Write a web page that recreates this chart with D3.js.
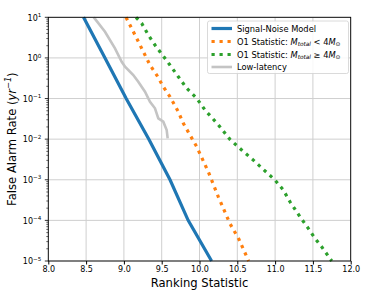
<!DOCTYPE html>
<html>
<head>
<meta charset="utf-8">
<script src="https://cdn.jsdelivr.net/npm/d3@7"></script>
<style>
  body { margin: 0; background: #fff; }
  text { font-family: "DejaVu Sans", sans-serif; }
</style>
</head>
<body>
<script>
// series: [ranking statistic, log10(FAR)]
var signalNoise = [[8.466, 1], [8.75, 0], [9.03, -1], [9.33, -2], [9.61, -3], [9.85, -4], [10.16, -5]];
var o1Low = [[9.028, 1], [9.08, 0.81], [9.169, 0.483], [9.257, 0.153], [9.345, -0.175], [9.434, -0.421],
             [9.521, -0.709], [9.61, -0.956], [9.72, -1.325], [9.786, -1.61], [9.963, -2.187],
             [10.116, -2.803], [10.249, -3.419], [10.403, -4.08], [10.52, -4.46], [10.65, -5]];
var o1High = [[9.16, 1], [9.235, 0.852], [9.323, 0.564], [9.411, 0.318], [9.477, 0.153], [9.543, -0.01],
              [9.609, -0.175], [9.72, -0.463], [9.831, -0.749], [9.963, -0.995], [10.073, -1.283],
              [10.25, -1.65], [10.403, -2.005], [10.558, -2.268], [10.712, -2.515], [10.844, -2.744],
              [10.999, -3.007], [11.109, -3.254], [11.197, -3.542], [11.329, -3.911], [11.439, -4.197],
              [11.528, -4.443], [11.616, -4.65], [11.704, -4.88], [11.749, -5]];
var lowLatency = [[8.6, 1], [8.618, 0.96], [8.75, 0.645], [8.882, 0.236], [8.971, -0.094], [9.015, -0.217],
                  [9.124, -0.421], [9.19, -0.586], [9.279, -0.833], [9.345, -1.079], [9.411, -1.241],
                  [9.455, -1.488], [9.521, -1.571], [9.566, -1.776], [9.579, -1.98]];

var xTicks = [8.0, 8.5, 9.0, 9.5, 10.0, 10.5, 11.0, 11.5, 12.0];
var yExponents = [1, 0, -1, -2, -3, -4, -5];

var width = 390, height = 293;
var margin = {left: 48.3, right: 39.3, top: 17.3, bottom: 32};

var svg = d3.select("body").append("svg")
    .attr("width", width)
    .attr("height", height);

var x = d3.scaleLinear().domain([8, 12]).range([margin.left, width - margin.right]);
var y = d3.scaleLog().domain([1e-5, 1e1]).range([height - margin.bottom, margin.top]);

var x0 = x.range()[0], x1 = x.range()[1], y0 = y.range()[0], y1 = y.range()[1];

//grid
svg.append("g").selectAll("line")
    .data(xTicks)
    .enter().append("line")
    .attr("x1", d => x(d)).attr("x2", d => x(d))
    .attr("y1", y0).attr("y2", y1)
    .attr("stroke", "#cfcfcf").attr("stroke-width", 1);
svg.append("g").selectAll("line")
    .data(yExponents)
    .enter().append("line")
    .attr("x1", x0).attr("x2", x1)
    .attr("y1", d => y(Math.pow(10, d))).attr("y2", d => y(Math.pow(10, d)))
    .attr("stroke", "#cfcfcf").attr("stroke-width", 1);

//lines
var line = d3.line()
    .x(d => x(d[0]))
    .y(d => y(Math.pow(10, d[1])));

var plot = svg.append("g");
plot.append("path").datum(lowLatency)
    .attr("d", line).attr("fill", "none")
    .attr("stroke", "#c4c4c4").attr("stroke-width", 2.6);
plot.append("path").datum(o1High)
    .attr("d", line).attr("fill", "none")
    .attr("stroke", "#2ca02c").attr("stroke-width", 3.2)
    .attr("stroke-dasharray", "3.2,4.8");
plot.append("path").datum(o1Low)
    .attr("d", line).attr("fill", "none")
    .attr("stroke", "#ff7f0e").attr("stroke-width", 3.2)
    .attr("stroke-dasharray", "3.2,4.8");
plot.append("path").datum(signalNoise)
    .attr("d", line).attr("fill", "none")
    .attr("stroke", "#1f77b4").attr("stroke-width", 3.2);

//x axis
var xAxis = d3.axisBottom(x)
    .tickValues(xTicks)
    .tickFormat(d3.format(".1f"))
    .tickSize(3.5).tickPadding(2);
var gx = svg.append("g")
    .attr("transform", "translate(0," + y0 + ")")
    .call(xAxis);
gx.select(".domain").remove();
gx.selectAll("text").attr("font-size", "8px").attr("fill", "#000")
    .attr("font-family", "DejaVu Sans");

//y axis ticks (major + minor)
var minor = [];
for (var e = -5; e < 1; e++) {
    for (var m = 2; m <= 9; m++) minor.push(m * Math.pow(10, e));
}
svg.append("g").selectAll("line")
    .data(minor)
    .enter().append("line")
    .attr("x1", x0 - 2).attr("x2", x0)
    .attr("y1", d => y(d)).attr("y2", d => y(d))
    .attr("stroke", "#000").attr("stroke-width", 0.6);
svg.append("g").selectAll("line")
    .data(yExponents)
    .enter().append("line")
    .attr("x1", x0 - 3.5).attr("x2", x0)
    .attr("y1", d => y(Math.pow(10, d))).attr("y2", d => y(Math.pow(10, d)))
    .attr("stroke", "#000").attr("stroke-width", 0.8);

var yLabels = svg.append("g").selectAll("text")
    .data(yExponents)
    .enter().append("text")
    .attr("x", x0 - 7)
    .attr("y", d => y(Math.pow(10, d)) + 3.2)
    .attr("text-anchor", "end")
    .attr("font-size", "8px");
yLabels.append("tspan").text("10");
yLabels.append("tspan")
    .attr("dy", -3.6)
    .attr("font-size", "5.6px")
    .text(d => d < 0 ? "\u2212" + (-d) : d);

//frame
svg.append("rect")
    .attr("x", x0).attr("y", y1)
    .attr("width", x1 - x0).attr("height", y0 - y1)
    .attr("fill", "none").attr("stroke", "#000").attr("stroke-width", 0.9);

//axis labels
svg.append("text")
    .attr("x", (x0 + x1) / 2).attr("y", 286.5)
    .attr("text-anchor", "middle")
    .attr("font-size", "11.6px")
    .text("Ranking Statistic");

var yl = svg.append("text")
    .attr("transform", "translate(15.5," + ((y0 + y1) / 2) + ") rotate(-90)")
    .attr("text-anchor", "middle")
    .attr("font-size", "11.6px");
yl.append("tspan").text("False Alarm Rate (");
yl.append("tspan").attr("font-style", "italic").text("yr");
yl.append("tspan").attr("dy", -4.5).attr("font-size", "8.1px").attr("font-style", "italic").text("\u22121");
yl.append("tspan").attr("dy", 4.5).text(")");

//legend
var legend = svg.append("g");
legend.append("rect")
    .attr("x", 207.5).attr("y", 21).attr("width", 141).attr("height", 52.5)
    .attr("rx", 2).attr("fill", "#fff").attr("fill-opacity", 0.85)
    .attr("stroke", "#d0d0d0").attr("stroke-width", 0.8);

var legendItems = [
    {color: "#1f77b4", dash: null, w: 3.2},
    {color: "#ff7f0e", dash: "3.2,4.8", w: 3.2},
    {color: "#2ca02c", dash: "3.2,4.8", w: 3.2},
    {color: "#c4c4c4", dash: null, w: 2.6}
];
var legendY = [28.5, 41.5, 54.5, 67];
legendItems.forEach(function(it, i){
    legend.append("line")
        .attr("x1", 211.5).attr("x2", 232).attr("y1", legendY[i]).attr("y2", legendY[i])
        .attr("stroke", it.color).attr("stroke-width", it.w)
        .attr("stroke-dasharray", it.dash);
});

function legendText(i){
    return legend.append("text")
        .attr("x", 237).attr("y", legendY[i] + 3)
        .attr("font-size", "8.3px");
}
legendText(0).text("Signal-Noise Model");
legendText(3).text("Low-latency");
[["<"], ["\u2265"]].forEach(function(op, k){
    var t = legendText(k + 1);
    t.append("tspan").text("O1 Statistic: ");
    t.append("tspan").attr("font-style", "italic").text("M");
    t.append("tspan").attr("font-style", "italic").attr("font-size", "5.8px").attr("dy", 1.8).text("total");
    t.append("tspan").attr("dy", -1.8).text(" " + op[0] + " 4");
    t.append("tspan").attr("font-style", "italic").text("M");
    t.append("tspan").attr("font-size", "5.8px").attr("dy", 1.8).text("\u2299");
});
</script>
</body>
</html>
